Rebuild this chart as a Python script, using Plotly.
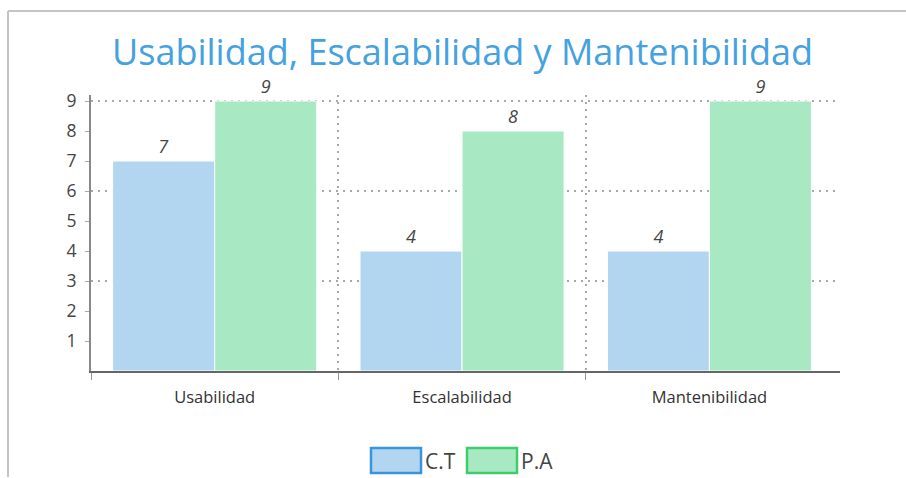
import plotly.graph_objects as go

categories = ["Usabilidad", "Escalabilidad", "Mantenibilidad"]
ct_values = [7, 4, 4]
pa_values = [9, 8, 9]
series_names = ["C.T", "P.A"]
y_ticks = [1, 2, 3, 4, 5, 6, 7, 8, 9]
grid_ticks = [3, 6, 9]

x_pos = list(range(len(categories)))
x_bounds = [i - 0.5 for i in x_pos]

W, H = 906, 478
L, R, T, B = 91, 66, 95, 107
pw, ph = W - L - R, H - T - B

def px(x):
    return (x - L) / pw

def py(y):
    return (H - B - y) / ph

fill_colors = ["#b3d6f0", "#a8e9c3"]
edge_colors = ["#3a94dc", "#3ecd6c"]
font_fam = "Open Sans, Noto Sans, sans-serif"
grid_dash = "2px,5px"
grid_col = "#a8a8a8"

fig = go.Figure()
for name, vals, fc in zip(series_names, [ct_values, pa_values], fill_colors):
    fig.add_trace(go.Bar(
        x=x_pos, y=vals, name=name,
        marker=dict(color=fc, line=dict(color="white", width=1)),
        text=vals, textposition="outside", cliponaxis=False,
        textfont=dict(family=font_fam, size=18, color="#444"),
        texttemplate="<i>%{text}</i>",
        showlegend=False,
    ))

shapes = [
    dict(type="line", xref="paper", yref="paper", x0=px(8), x1=px(W + 5), y0=py(11), y1=py(11),
         line=dict(color="#c4c4c4", width=2)),
    dict(type="line", xref="paper", yref="paper", x0=px(8), x1=px(8), y0=py(11), y1=py(477),
         line=dict(color="#c4c4c4", width=2)),
]
annotations = []
legend_x = [371, 467]
for i, name in enumerate(series_names):
    x0 = legend_x[i]
    shapes.append(dict(type="rect", xref="paper", yref="paper",
                       x0=px(x0), x1=px(x0 + 50), y0=py(473), y1=py(448),
                       fillcolor=fill_colors[i], line=dict(color=edge_colors[i], width=2.5)))
    annotations.append(dict(xref="paper", yref="paper", x=px(x0 + 52), y=py(461),
                            xanchor="left", yanchor="middle", showarrow=False, text=name,
                            font=dict(family=font_fam, size=21, color="#444")))

fig.update_layout(
    width=W, height=H,
    margin=dict(l=L, r=R, t=T, b=B),
    paper_bgcolor="white", plot_bgcolor="white",
    barmode="group", bargap=0.175, bargroupgap=0,
    title=dict(text="Usabilidad, Escalabilidad y Mantenibilidad", x=462.5 / W, xanchor="center",
               y=1 - 52 / H, yanchor="middle",
               font=dict(family=font_fam, size=36, color="#45a2df")),
    shapes=shapes, annotations=annotations,
    showlegend=False,
)
fig.update_xaxes(
    range=[-0.5, len(categories) - 0.472],
    tickvals=x_pos, ticktext=categories, ticks="", showgrid=False, zeroline=False,
    showline=True, linecolor="#666", linewidth=2,
    ticklabelstandoff=10,
    tickfont=dict(family=font_fam, size=16.5, color="#333"),
    minor=dict(tickvals=x_bounds, showgrid=True, griddash=grid_dash, gridcolor=grid_col,
               gridwidth=1.5, ticks="outside", ticklen=7, tickcolor="#999"),
)
fig.update_yaxes(
    range=[0, 9.2], tickvals=y_ticks, showgrid=False,
    ticks="outside", ticklen=4, tickcolor="#aaa",
    showline=True, linecolor="#888", linewidth=2,
    zeroline=False, ticklabelstandoff=5,
    tickfont=dict(family=font_fam, size=17.5, color="#444"),
    minor=dict(tickvals=grid_ticks, showgrid=True, griddash=grid_dash, gridcolor=grid_col,
               gridwidth=1.5, ticks=""),
)
fig.write_html("out.html", config={"displayModeBar": False},
               post_script="document.body.style.margin='0';")
